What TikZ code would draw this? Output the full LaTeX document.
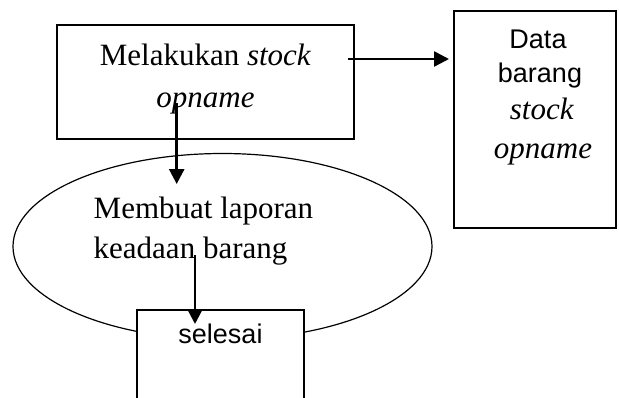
\documentclass[tikz,border=0pt]{standalone}
\usepackage{fontspec}
\setmainfont{Liberation Serif}
\newfontfamily\arialfont{Liberation Sans}
\usetikzlibrary{arrows.meta,shapes.geometric}
\begin{document}
\begin{tikzpicture}[x=1pt,y=-1pt,
  box/.style={draw, line width=2pt, rectangle, inner sep=0pt},
  serif/.style={font=\fontsize{31}{37}\selectfont, inner sep=0pt},
  sans/.style={font=\arialfont\fontsize{27}{32}\selectfont, inner sep=0pt},
  flow/.style={line width=2.6pt, -{Triangle[length=15pt,width=15pt]}}]
\clip (0,0) rectangle (619,397);
\fill[white] (0,0) rectangle (619,397);

% process box
\node[box, minimum width=297pt, minimum height=114pt] (proc) at (205.5,82) {};
\node[serif, anchor=base] (procA) at (205.5,65) {Melakukan \textit{stock}};
\node[serif, anchor=base] (procB) at (205.5,107) {\textit{opname}};

% data store box
\node[box, minimum width=162pt, minimum height=217pt] (data) at (535,119.5) {};
\node[sans, anchor=base] (dataA) at (538,48) {Data};
\node[sans, anchor=base] (dataB) at (540,82) {barang};
\node[serif, anchor=base] (dataC) at (542,119) {\textit{stock}};
\node[serif, anchor=base] (dataD) at (543,158) {\textit{opname}};

% report ellipse
\node[draw, ellipse, line width=1.2pt, minimum width=419pt, minimum height=186pt, inner sep=0pt] (report) at (222.5,246.5) {};
\node[serif, anchor=base west] (repA) at (93.5,218) {Membuat laporan};
\node[serif, anchor=base west] (repB) at (93.5,258) {keadaan barang};

% end box, running off the bottom edge
\node[box, fill=white, minimum width=167pt, minimum height=100pt] (done) at (220.5,360) {};
\node[sans, anchor=base] (doneA) at (220.5,343) {selesai};

% connectors
\coordinate (a1s) at (176.7,103);
\coordinate (a1e) at (176.7,184);
\coordinate (a2s) at (348,59);
\coordinate (a2e) at (449,59);
\coordinate (a3s) at (195,255);
\coordinate (a3e) at (195,324);
\draw[flow] (a1s) -- (a1e);
\draw[flow] (a2s) -- (a2e);
\draw[flow] (a3s) -- (a3e);
\end{tikzpicture}
\end{document}
